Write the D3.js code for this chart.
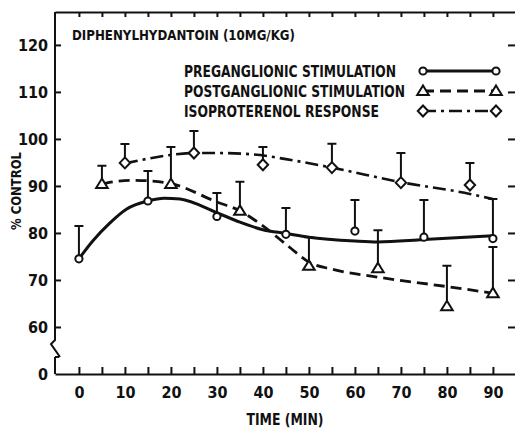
<!DOCTYPE html>
<html>
<head>
<meta charset="utf-8">
<script src="https://cdn.jsdelivr.net/npm/d3@7"></script>
<style>
  body { margin: 0; background: #fff; }
  svg text { font-family: 'Liberation Sans Narrow', 'DejaVu Sans Condensed', sans-serif; font-weight: bold; fill: #111; }
</style>
</head>
<body>
<svg id="chart" width="515" height="428"></svg>
<script>
// measured means (% control) and top of error bar
const preTimes = [0, 15, 30, 45, 60, 75, 90]
const preValues = [74.5, 86.8, 83.5, 79.7, 80.4, 79.1, 78.8]
const preErr = [81.5, 93.2, 88.5, 85.3, 87, 87, 87.2]

const postTimes = [5, 20, 35, 50, 65, 80, 90]
const postValues = [90.4, 90.4, 84.7, 73, 72.5, 64.4, 67.2]
const postErr = [94.3, 98.3, 90.9, 79.1, 80.6, 73, 77]

const isoTimes = [10, 25, 40, 55, 70, 85]
const isoValues = [94.9, 97, 94.5, 93.9, 90.7, 90.2]
const isoErr = [98.9, 101.7, 98.3, 99, 97, 94.9]

// hand-drawn fitted curves
const preCurveT = [0, 3, 6.7, 10.4, 15, 18.5, 22, 30, 35, 40, 45, 50, 60, 65, 75, 90]
const preCurveV = [74.5, 78.3, 82.1, 85.1, 86.8, 87.4, 87.2, 84.3, 82.3, 80.7, 79.9, 79.1, 78.3, 78.1, 78.6, 79.4]
const postCurveT = [5, 11, 15, 20, 30, 35, 40, 46, 50, 55, 65, 80, 90]
const postCurveV = [90.4, 91.2, 91.1, 90.5, 86.6, 84.7, 81.5, 76.8, 73.8, 72.3, 70.6, 68.6, 67.2]
const isoCurveT = [10, 15, 20, 25, 30, 38, 45, 55, 70, 85, 90]
const isoCurveV = [94.8, 95.8, 96.6, 97, 97, 96.7, 95.7, 93.9, 90.8, 88.3, 87.2]

const yTickValues = [50, 60, 70, 80, 90, 100, 110, 120]
const yTickLabels = ['0', '60', '70', '80', '90', '100', '110', '120']
const xTickValues = d3.range(0, 91, 5)
const xTickLabels = ['0', '10', '20', '30', '40', '50', '60', '70', '80', '90']

const title = 'DIPHENYLHYDANTOIN (10MG/KG)'
const legendLabels = ['PREGANGLIONIC STIMULATION', 'POSTGANGLIONIC STIMULATION', 'ISOPROTERENOL RESPONSE']

const svg = d3.select('#chart')

const x = d3.scaleLinear().domain([-5.2, 94.8]).range([55, 515])
const y = d3.scaleLinear().domain([50, 127]).range([374, 12])

const ink = '#111'

// top frame
svg.append('g')
  .attr('transform', `translate(0,${y(127)})`)
  .call(d3.axisTop(x).tickValues(xTickValues).tickSizeInner(-5).tickSizeOuter(0).tickFormat(''))
  .call(g => g.selectAll('path, line').attr('stroke', ink).attr('stroke-width', 2))

// bottom axis
svg.append('g')
  .attr('transform', `translate(0,${y(50)})`)
  .call(d3.axisBottom(x).tickValues(xTickValues).tickSizeInner(-7).tickSizeOuter(0).tickPadding(13)
    .tickFormat(d => d % 10 === 0 ? xTickLabels[d / 10] : ''))
  .call(g => g.selectAll('path, line').attr('stroke', ink).attr('stroke-width', 2))
  .call(g => g.selectAll('text').attr('font-size', 16).attr('fill', ink))

// left axis, with a break below 60
svg.append('g')
  .call(d3.axisLeft(y).tickValues(yTickValues).tickSizeInner(-6).tickSizeOuter(0).tickPadding(7)
    .tickFormat((d, i) => yTickLabels[i]))
  .attr('transform', 'translate(55,0)')
  .call(g => g.select('.domain').remove())
  .call(g => g.selectAll('line').attr('stroke', ink).attr('stroke-width', 2))
  .call(g => g.selectAll('text').attr('font-size', 16).attr('fill', ink))
  .call(g => g.selectAll('.tick').filter(d => d === 50).select('line').remove())

const b = y(50)
svg.append('path')
  .attr('d', `M55,${y(127)}V${b - 34}L51,${b - 30}L60,${b - 17}M55,${b - 17}H59M55,${b - 17}V${b}`)
  .attr('fill', 'none').attr('stroke', ink).attr('stroke-width', 2)

// right edge ticks
svg.append('g')
  .attr('transform', 'translate(515,0)')
  .call(d3.axisRight(y).tickValues(yTickValues.slice(1)).tickSizeInner(-7).tickSizeOuter(0).tickFormat(''))
  .call(g => g.select('.domain').remove())
  .call(g => g.selectAll('line').attr('stroke', ink).attr('stroke-width', 2))

// axis titles
svg.append('text')
  .attr('x', 285).attr('y', 425)
  .attr('text-anchor', 'middle')
  .attr('font-size', 16)
  .attr('textLength', 77).attr('lengthAdjust', 'spacingAndGlyphs')
  .text('TIME (MIN)')

svg.append('text')
  .attr('transform', 'translate(21,191) rotate(-90)')
  .attr('text-anchor', 'middle')
  .attr('font-size', 14)
  .attr('textLength', 78).attr('lengthAdjust', 'spacingAndGlyphs')
  .text('% CONTROL')

svg.append('text')
  .attr('x', 72).attr('y', 40)
  .attr('font-size', 14)
  .attr('textLength', 223).attr('lengthAdjust', 'spacingAndGlyphs')
  .text(title)

// marker shapes
const circle = 'M3.6,0A3.6,3.6 0 1 1 -3.6,0A3.6,3.6 0 1 1 3.6,0Z'
const triangle = 'M0,-5.5L5.8,4L-5.8,4Z'
const diamond = 'M0,-5.5L5.2,0L0,5.5L-5.2,0Z'

const series = [
  { times: preTimes, values: preValues, err: preErr, ct: preCurveT, cv: preCurveV, shape: circle, dash: null, width: 3 },
  { times: postTimes, values: postValues, err: postErr, ct: postCurveT, cv: postCurveV, shape: triangle, dash: '11,6', width: 2.8 },
  { times: isoTimes, values: isoValues, err: isoErr, ct: isoCurveT, cv: isoCurveV, shape: diamond, dash: '13,5,3,5', width: 2.6 }
]

const line = d3.line()
  .x(d => x(d[0]))
  .y(d => y(d[1]))
  .curve(d3.curveMonotoneX)

series.forEach(s => {
  svg.append('path')
    .datum(d3.zip(s.ct, s.cv))
    .attr('d', line)
    .attr('fill', 'none')
    .attr('stroke', ink)
    .attr('stroke-width', s.width)
    .attr('stroke-dasharray', s.dash)
})

series.forEach(s => {
  const pts = s.times.map((t, i) => ({ t, v: s.values[i], e: s.err[i] }))
  const g = svg.append('g')
  g.selectAll('.bar')
    .data(pts)
    .enter().append('path')
      .attr('d', d => `M${x(d.t)},${y(d.v)}V${y(d.e)}M${x(d.t) - 4.5},${y(d.e)}H${x(d.t) + 4.5}`)
      .attr('fill', 'none').attr('stroke', ink).attr('stroke-width', 2)
  g.selectAll('.mark')
    .data(pts)
    .enter().append('path')
      .attr('transform', d => `translate(${x(d.t)},${y(d.v)})`)
      .attr('d', s.shape)
      .attr('fill', '#fff').attr('stroke', ink).attr('stroke-width', 2)
})

// legend
const legendY = [71, 91, 111]
const legendW = [212, 221, 195]
legendLabels.forEach((label, i) => {
  const s = series[i]
  svg.append('text')
    .attr('x', 184).attr('y', legendY[i] + 6)
    .attr('font-size', 16)
    .attr('textLength', legendW[i]).attr('lengthAdjust', 'spacingAndGlyphs')
    .text(label)
  svg.append('line')
    .attr('x1', 423).attr('x2', 496)
    .attr('y1', legendY[i]).attr('y2', legendY[i])
    .attr('stroke', ink).attr('stroke-width', s.width)
    .attr('stroke-dasharray', s.dash)
  ;[423, 496].forEach(px => {
    svg.append('path')
      .attr('transform', `translate(${px},${legendY[i]})`)
      .attr('d', s.shape)
      .attr('fill', '#fff').attr('stroke', ink).attr('stroke-width', 2)
  })
})
</script>
</body>
</html>
